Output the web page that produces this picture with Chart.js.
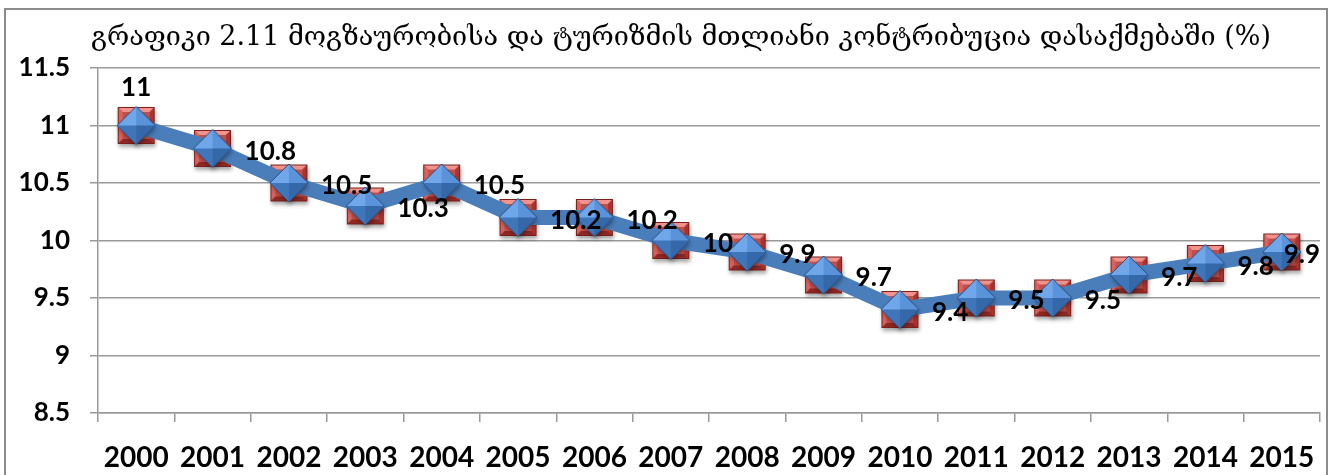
<!DOCTYPE html>
<html lang="ka">
<head>
<meta charset="UTF-8">
<title>მოგზაურობისა და ტურიზმის მთლიანი კონტრიბუცია დასაქმებაში</title>
<script src="https://cdn.jsdelivr.net/npm/chart.js"></script>
<style>
    body {
        margin: 0;
        background: #fff;
    }
    .wrap {
        position: relative;
        width: 1330px;
        height: 475px;
    }
</style>
</head>
<body>
<div class="wrap"><canvas id="graph" width="1330" height="475"></canvas></div>
<script>
    const chartTitle = 'გრაფიკი 2.11 მოგზაურობისა და ტურიზმის მთლიანი კონტრიბუცია დასაქმებაში (%)';
    const years = ['2000', '2001', '2002', '2003', '2004', '2005', '2006', '2007',
                   '2008', '2009', '2010', '2011', '2012', '2013', '2014', '2015'];
    const shares = [11, 10.8, 10.5, 10.3, 10.5, 10.2, 10.2, 10, 9.9, 9.7, 9.4, 9.5, 9.5, 9.7, 9.8, 9.9];
    const yMin = 8.5;
    const yMax = 11.5;
    const yStep = 0.5;

    function face(g, pts, color) {
        g.beginPath();
        g.moveTo(pts[0][0], pts[0][1]);
        for (let i = 1; i < pts.length; i++) g.lineTo(pts[i][0], pts[i][1]);
        g.closePath();
        g.fillStyle = color;
        g.fill();
    }

    // red bevelled square that sits behind each diamond
    function squareMarker(size) {
        const pad = 7;
        const c = document.createElement('canvas');
        c.width = c.height = size + pad * 2;
        const g = c.getContext('2d');
        const a = pad, b = pad + size, e = 5;
        g.save();
        g.shadowColor = 'rgba(0,0,0,0.35)';
        g.shadowBlur = 4;
        g.shadowOffsetX = 1;
        g.shadowOffsetY = 3;
        g.fillStyle = '#c0504d';
        g.fillRect(a, a, size, size);
        g.restore();
        face(g, [[a, a], [b, a], [b - e, a + e], [a + e, a + e]], '#f2928d');
        face(g, [[a, a], [a + e, a + e], [a + e, b - e], [a, b]], '#d8625d');
        face(g, [[b, a], [b, b], [b - e, b - e], [b - e, a + e]], '#a9342f');
        face(g, [[a, b], [a + e, b - e], [b - e, b - e], [b, b]], '#8f2824');
        g.strokeStyle = '#7a1f1b';
        g.lineWidth = 1;
        g.strokeRect(a + 0.5, a + 0.5, size - 1, size - 1);
        return c;
    }

    // blue pyramid-like diamond on the line
    function diamondMarker(r) {
        const pad = 7;
        const c = document.createElement('canvas');
        c.width = c.height = r * 2 + pad * 2;
        const g = c.getContext('2d');
        const m = pad + r;
        const top = [m, m - r], right = [m + r, m], bottom = [m, m + r], left = [m - r, m];
        g.save();
        g.shadowColor = 'rgba(0,0,0,0.35)';
        g.shadowBlur = 4;
        g.shadowOffsetX = 1;
        g.shadowOffsetY = 3;
        face(g, [top, right, bottom, left], '#4a80c4');
        g.restore();
        face(g, [top, [m, m], left], '#6fa7ea');
        face(g, [top, right, [m, m]], '#5a93d9');
        face(g, [left, [m, m], bottom], '#3f76ba');
        face(g, [[m, m], right, bottom], '#3468a8');
        g.beginPath();
        g.moveTo(top[0], top[1]);
        g.lineTo(right[0], right[1]);
        g.lineTo(bottom[0], bottom[1]);
        g.lineTo(left[0], left[1]);
        g.closePath();
        g.strokeStyle = '#2b5388';
        g.lineWidth = 1;
        g.stroke();
        return c;
    }

    // grey frame round the whole chart, and the heading inside it
    const frame = {
        id: 'frame',
        beforeDraw(chart) {
            const ctx = chart.ctx;
            ctx.save();
            ctx.fillStyle = '#fff';
            ctx.fillRect(0, 0, chart.width, chart.height);
            ctx.strokeStyle = '#8c8c8c';
            ctx.lineWidth = 2;
            ctx.strokeRect(5, 9, chart.width - 8, chart.height + 10);
            ctx.fillStyle = '#000';
            ctx.font = '27px "DejaVu Serif"';
            ctx.textAlign = 'center';
            ctx.textBaseline = 'middle';
            ctx.fillText(chartTitle, 681, 38);
            ctx.restore();
        }
    };

    // value next to each point; the first one goes above
    const valueLabels = {
        id: 'valueLabels',
        afterDatasetsDraw(chart) {
            const ctx = chart.ctx;
            const pts = chart.getDatasetMeta(0).data;
            ctx.save();
            ctx.font = 'bold 26px Lato';
            ctx.fillStyle = '#000';
            ctx.textBaseline = 'middle';
            pts.forEach((pt, i) => {
                const text = String(shares[i]);
                if (i === 0) {
                    ctx.textAlign = 'center';
                    ctx.fillText(text, pt.x, pt.y - 38);
                    return;
                }
                ctx.textAlign = 'left';
                const w = ctx.measureText(text).width;
                const x = Math.min(pt.x + 32, chart.chartArea.right - w);
                ctx.fillText(text, x, pt.y + 3);
            });
            ctx.restore();
        }
    };

    const gridGrey = '#9a9a9a';

    new Chart(document.getElementById('graph'), {
        type: 'line',
        data: {
            labels: years,
            datasets: [{
                data: shares,
                borderColor: '#4a7ebb',
                borderWidth: 15,
                borderJoinStyle: 'round',
                tension: 0,
                pointStyle: diamondMarker(19),
                pointRadius: 19,
                clip: false
            }, {
                data: shares,
                showLine: false,
                pointStyle: squareMarker(37),
                pointRadius: 26,
                clip: false
            }]
        },
        options: {
            responsive: false,
            animation: false,
            events: [],
            devicePixelRatio: 1,
            layout: { autoPadding: false, padding: { left: 0, right: 10, top: 68, bottom: 0 } },
            scales: {
                x: {
                    offset: true,
                    grid: { offset: true, drawOnChartArea: false, drawTicks: true, tickLength: 9, color: gridGrey, lineWidth: 1.5 },
                    border: { color: gridGrey, width: 1.5 },
                    ticks: {
                        font: { family: 'Lato', weight: 'bold', size: 28 },
                        color: '#000',
                        padding: 19,
                        maxRotation: 0,
                        autoSkip: false
                    },
                    afterFit: s => {
                        s.height = 62;
                        s.paddingLeft = 0;
                        s.paddingRight = 0;
                    }
                },
                y: {
                    min: yMin,
                    max: yMax,
                    grid: { color: gridGrey, lineWidth: 1.5, tickLength: 8 },
                    border: { color: gridGrey, width: 1.5 },
                    ticks: {
                        stepSize: yStep,
                        font: { family: 'Lato', weight: 'bold', size: 26 },
                        color: '#000',
                        padding: 20,
                        callback: v => String(v)
                    },
                    afterFit: s => { s.width = 98; }
                }
            },
            plugins: {
                legend: { display: false },
                tooltip: { enabled: false },
                title: { display: false }
            }
        },
        plugins: [frame, valueLabels]
    });
</script>
</body>
</html>
